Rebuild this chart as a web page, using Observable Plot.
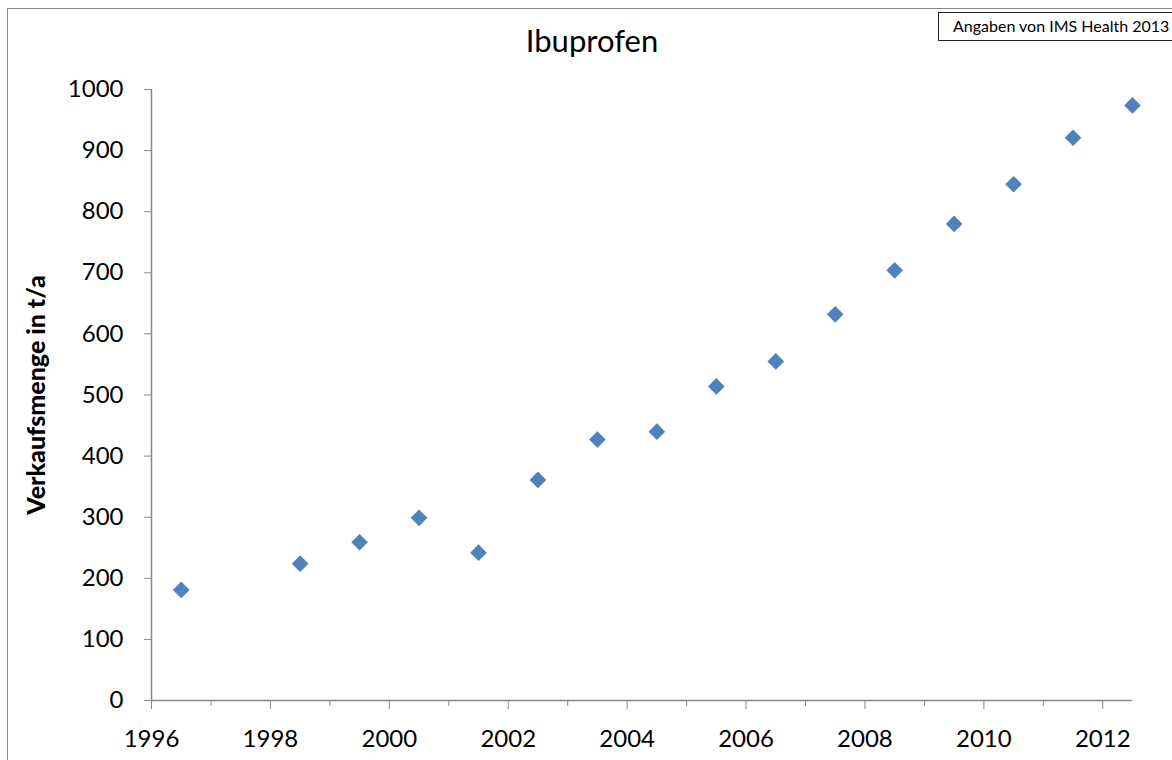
<!DOCTYPE html>
<html>
<head>
<meta charset="utf-8">
<script src="https://cdn.jsdelivr.net/npm/d3@7"></script>
<script src="https://cdn.jsdelivr.net/npm/@observablehq/plot@0.6"></script>
<style>
  html, body { margin: 0; padding: 0; background: #fff; }
  body { width: 1172px; height: 760px; position: relative; overflow: hidden; font-family: Lato, "Open Sans", sans-serif; }
  #frame { position: absolute; left: 7px; top: 8px; width: 1200px; height: 800px; border-left: 1.5px solid #8a8a8a; border-top: 1.5px solid #8a8a8a; }
  #chart { position: absolute; left: 0; top: 0; }
  #title { position: absolute; left: 492px; top: 21px; width: 200px; text-align: center; font-size: 31px; color: #000; }
  #ylabel { position: absolute; left: 35px; top: 395px; transform: translate(-50%, -50%) rotate(-90deg); font-size: 25px; font-weight: 900; white-space: nowrap; color: #000; }
  #source { position: absolute; left: 938px; top: 12px; width: 240px; height: 29px; border: 1.5px solid #222; box-sizing: border-box; font-size: 16px; line-height: 26px; padding-left: 14px; white-space: nowrap; color: #000; }
</style>
</head>
<body>
<div id="frame"></div>
<div id="chart"></div>
<div id="title">Ibuprofen</div>
<div id="ylabel">Verkaufsmenge in t/a</div>
<div id="source">Angaben von IMS Health 2013</div>
<script>
const years = [1996, 1998, 1999, 2000, 2001, 2002, 2003, 2004, 2005, 2006, 2007, 2008, 2009, 2010, 2011, 2012];
const amounts = [181, 224, 259, 299, 242, 361, 427, 440, 514, 555, 632, 704, 780, 845, 921, 974];
const majorYearTicks = [1996, 1998, 2000, 2002, 2004, 2006, 2008, 2010, 2012];
const minorYearTicks = [1997, 1999, 2001, 2003, 2005, 2007, 2009, 2011];
const yTicks = [0, 100, 200, 300, 400, 500, 600, 700, 800, 900, 1000];

const data = years.map((y, i) => ({year: y, amount: amounts[i]}));
const axisColor = "#868686";

const chart = Plot.plot({
  width: 1172,
  height: 760,
  marginLeft: 151,
  marginRight: 40,
  marginTop: 89,
  marginBottom: 60,
  style: {fontFamily: "Lato, 'Open Sans', sans-serif", fontSize: "24px", color: "#000", background: "transparent"},
  x: {domain: [1996, 2012.5]},
  y: {domain: [0, 1000]},
  marks: [
    Plot.axisY({ticks: yTicks, tickSize: 7, tickPadding: 21, stroke: axisColor, label: null, tickFormat: d => String(d), fill: "#000"}),
    Plot.axisX({ticks: majorYearTicks, tickSize: 9, tickPadding: 20, stroke: axisColor, label: null, tickFormat: d => String(d), fill: "#000"}),
    Plot.axisX({ticks: minorYearTicks, tickSize: 6, stroke: axisColor, label: null, tickFormat: () => ""}),
    Plot.ruleY([0], {stroke: axisColor, strokeWidth: 1.5}),
    Plot.ruleX([1996], {stroke: axisColor, strokeWidth: 1.5}),
    Plot.dot(data, {x: d => d.year + 0.5, y: "amount", symbol: "diamond2", r: 7.5, fill: "#4F81BD", stroke: "none"})
  ]
});
document.getElementById("chart").appendChild(chart);
</script>
</body>
</html>
